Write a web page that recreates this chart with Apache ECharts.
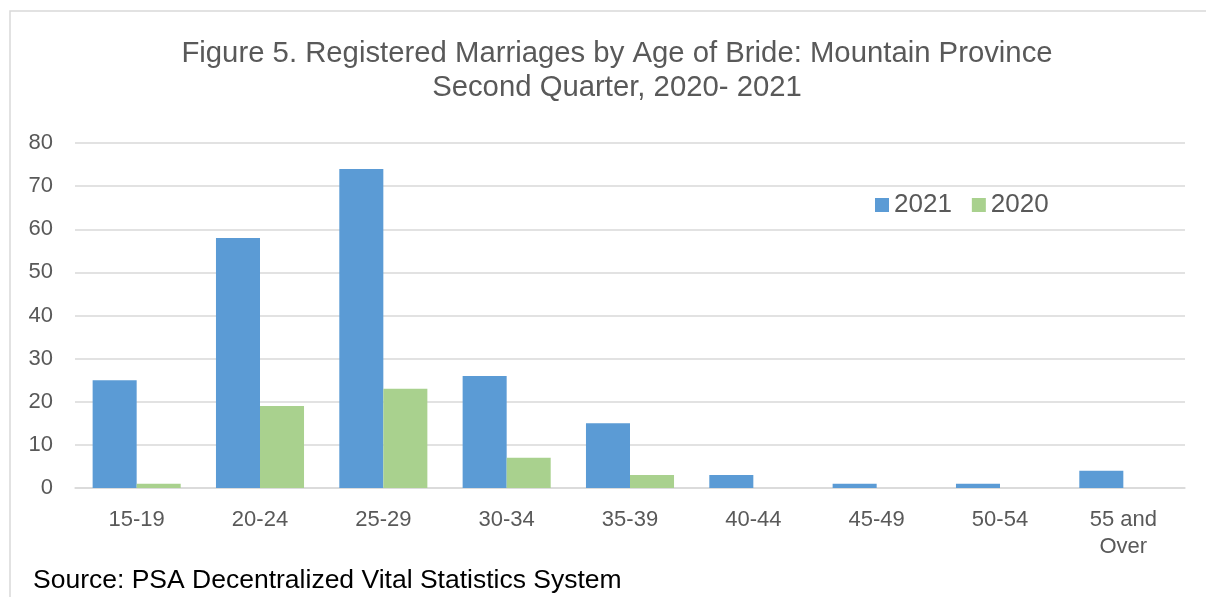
<!DOCTYPE html>
<html>
<head>
<meta charset="utf-8">
<script src="https://cdn.jsdelivr.net/npm/echarts@6/dist/echarts.min.js"></script>
<style>
  html, body { margin: 0; padding: 0; background: #fff; }
  #chart { width: 1206px; height: 597px; }
</style>
</head>
<body>
<div id="chart"></div>
<script>
// data
const ageGroups = ['15-19', '20-24', '25-29', '30-34', '35-39', '40-44', '45-49', '50-54', '55 and\nOver'];
const values2021 = [25, 58, 74, 26, 15, 3, 1, 1, 4];
const values2020 = [1, 19, 23, 7, 3, 0, 0, 0, 0];
const yTicks = [0, 10, 20, 30, 40, 50, 60, 70, 80];

const font = 'Liberation Sans, Arial, sans-serif';
const grey = '#595959';

const chart = echarts.init(document.getElementById('chart'));

chart.setOption({
    animation: false,
    textStyle: { fontFamily: font },
    graphic: [
        {
            type: 'rect',
            shape: { x: 10, y: 11, width: 1220, height: 620 },
            style: { fill: 'none', stroke: '#d9d9d9', lineWidth: 1.5 },
            silent: true,
        },
        {
            type: 'text',
            left: 33,
            top: 567,
            style: {
                text: 'Source: PSA Decentralized Vital Statistics System',
                fontSize: 26.5,
                fontFamily: font,
                fill: '#000',
            },
        },
    ],
    title: {
        text: 'Figure 5. Registered Marriages by Age of Bride: Mountain Province\nSecond Quarter, 2020- 2021',
        left: 612,
        top: 32,
        textAlign: 'center',
        textStyle: {
            fontSize: 29.3,
            fontWeight: 'normal',
            color: grey,
            lineHeight: 34,
            fontFamily: font,
        },
    },
    legend: {
        data: ['2021', '2020'],
        left: 870,
        top: 187,
        icon: 'rect',
        itemWidth: 14,
        itemHeight: 14,
        itemGap: 20,
        textStyle: { fontSize: 26, color: grey },
    },
    grid: {
        left: 75,
        right: 21,
        top: 143,
        bottom: 109,
    },
    xAxis: {
        type: 'category',
        data: ageGroups,
        axisTick: { show: false },
        axisLine: { lineStyle: { color: '#d9d9d9', width: 1.5 } },
        axisLabel: {
            fontSize: 22,
            color: grey,
            margin: 18,
            lineHeight: 27,
        },
    },
    yAxis: {
        type: 'value',
        min: yTicks[0],
        max: yTicks[yTicks.length - 1],
        interval: 10,
        axisLine: { show: false },
        axisTick: { show: false },
        splitLine: { lineStyle: { color: '#d9d9d9', width: 1.5 } },
        axisLabel: { fontSize: 22, color: grey, margin: 22 },
    },
    series: [
        {
            name: '2021',
            type: 'bar',
            data: values2021,
            barGap: '0%',
            barCategoryGap: '28.6%',
            itemStyle: { color: '#5b9bd5' },
        },
        {
            name: '2020',
            type: 'bar',
            data: values2020,
            itemStyle: { color: '#a9d18e' },
        },
    ],
});
</script>
</body>
</html>
